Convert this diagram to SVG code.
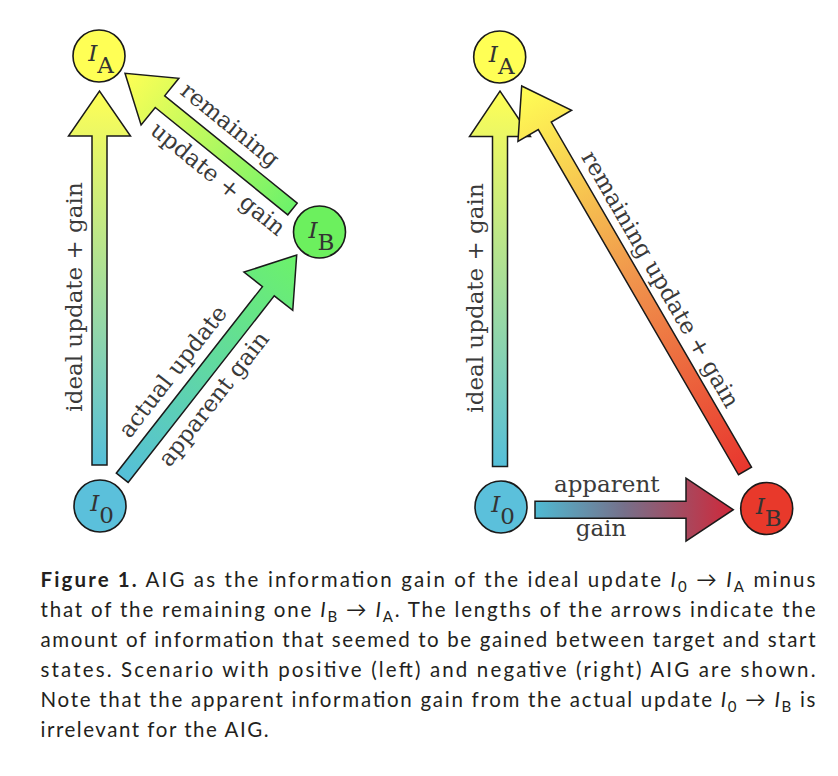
<svg xmlns="http://www.w3.org/2000/svg" width="838" height="776" viewBox="0 0 838 776">
<style>
.node{stroke:#1a1a1a;stroke-width:1.6}
.arr{stroke:#1a1a1a;stroke-width:1.5;stroke-linejoin:miter}
.lbl{font-family:"DejaVu Serif","Liberation Serif",serif;font-size:23px;fill:#3a3a3a}
.nl{font-family:"DejaVu Serif","Liberation Serif",serif;font-size:23px;fill:#333;text-anchor:middle}
.it{font-style:italic}
.cap{font-family:Lato,"Open Sans","Liberation Sans",sans-serif;font-size:20.5px;fill:#231f20}
.sub{font-size:15px}
</style>
<defs>
<linearGradient id="gVL" gradientUnits="userSpaceOnUse" x1="99.5" y1="465" x2="99.5" y2="91"><stop offset="0" stop-color="#55bfd9"/><stop offset="1" stop-color="#ffff55"/></linearGradient>
<linearGradient id="gVR" gradientUnits="userSpaceOnUse" x1="500" y1="466" x2="500" y2="91"><stop offset="0" stop-color="#55bfd9"/><stop offset="1" stop-color="#ffff55"/></linearGradient>
<linearGradient id="gRemL" gradientUnits="userSpaceOnUse" x1="292.5" y1="209" x2="125" y2="73.3"><stop offset="0" stop-color="#6cf26a"/><stop offset="1" stop-color="#ffff55"/></linearGradient>
<linearGradient id="gAct" gradientUnits="userSpaceOnUse" x1="122.2" y1="477.8" x2="296.7" y2="255"><stop offset="0" stop-color="#55bfd9"/><stop offset="1" stop-color="#6cf26a"/></linearGradient>
<linearGradient id="gRemR" gradientUnits="userSpaceOnUse" x1="745" y1="471" x2="521.7" y2="86"><stop offset="0" stop-color="#e8362e"/><stop offset="0.5" stop-color="#f0944c"/><stop offset="1" stop-color="#ffff55"/></linearGradient>
<linearGradient id="gH" gradientUnits="userSpaceOnUse" x1="535" y1="509.7" x2="733.3" y2="509.7"><stop offset="0" stop-color="#4fbad3"/><stop offset="0.45" stop-color="#76708a"/><stop offset="1" stop-color="#d0283a"/></linearGradient>
</defs>
<rect width="838" height="776" fill="#ffffff"/>

<g id="connectors">
<polygon class="arr" fill="url(#gVL)" points="107,465 107,136 130.5,136 99.5,91 68.5,136 92,136 92,465"/>
<polygon class="arr" fill="url(#gRemL)" points="297.22,203.17 164.68,95.79 178.84,78.31 125,73.3 141.08,124.93 155.24,107.45 287.78,214.83"/>
<polygon class="arr" fill="url(#gAct)" points="128.1,482.42 274.24,295.84 292.75,310.33 296.7,255 243.93,272.11 262.44,286.6 116.3,473.18"/>
<polygon class="arr" fill="url(#gVR)" points="507.5,466.5 507.5,136.5 530.5,136.5 500,91 469.5,136.5 492.5,136.5 492.5,466.5"/>
<polygon class="arr" fill="url(#gH)" points="535,501.2 686,501.2 686,478.2 733.3,509.7 686,541.2 686,518.2 535,518.2"/>
<polygon class="arr" fill="url(#gRemR)" points="751.49,467.24 551.27,122.03 571.6,110.24 521.7,86 517.96,141.34 538.29,129.55 738.51,474.76"/>

<text class="lbl" text-anchor="middle" transform="translate(82,297) rotate(-90)">ideal update + gain</text>
<text class="lbl" text-anchor="middle" transform="translate(213.6,145.2) rotate(39)" y="-18.5">remaining</text>
<text class="lbl" text-anchor="middle" transform="translate(232.7,160.6) rotate(39)" y="31">update + gain</text>
<text class="lbl" text-anchor="middle" transform="translate(193.05,387.34) rotate(-52)" y="-18">actual update</text>
<text class="lbl" text-anchor="middle" transform="translate(195.27,384.5) rotate(-52)" y="31">apparent gain</text>
<text class="lbl" text-anchor="middle" transform="translate(483,298) rotate(-90)">ideal update + gain</text>
<text class="lbl" text-anchor="middle" transform="translate(640.8,290.6) rotate(60)" y="-15">remaining update + gain</text>
<text class="lbl" text-anchor="middle" x="606.7" y="491.5">apparent</text>
<text class="lbl" text-anchor="middle" x="601" y="536">gain</text>
</g>

<g id="IA-left"><circle class="node" cx="99" cy="56" r="26" fill="#ffff55"/><text class="nl" x="101" y="61"><tspan class="it">I</tspan><tspan dy="12">A</tspan></text></g>
<g id="IB-left"><circle class="node" cx="319.5" cy="232" r="26" fill="#6cf05e"/><text class="nl" x="321.5" y="237.5"><tspan class="it">I</tspan><tspan dy="12">B</tspan></text></g>
<g id="I0-left"><circle class="node" cx="100" cy="506" r="26" fill="#5bc0db"/><text class="nl" x="102" y="511"><tspan class="it">I</tspan><tspan dy="12">0</tspan></text></g>
<g id="IA-right"><circle class="node" cx="499.7" cy="57" r="26" fill="#ffff55"/><text class="nl" x="501.7" y="62"><tspan class="it">I</tspan><tspan dy="12">A</tspan></text></g>
<g id="I0-right"><circle class="node" cx="501" cy="507" r="26" fill="#5bc0db"/><text class="nl" x="503" y="512"><tspan class="it">I</tspan><tspan dy="12">0</tspan></text></g>
<g id="IB-right"><circle class="node" cx="766.7" cy="508.5" r="26" fill="#e8392b"/><text class="nl" x="768.7" y="514"><tspan class="it">I</tspan><tspan dy="12">B</tspan></text></g>

<g id="caption">
<text class="cap" x="40.5" y="587" textLength="775" lengthAdjust="spacing"><tspan font-weight="bold">Figure 1.</tspan>  AIG as the information gain of the ideal update <tspan class="it">I</tspan><tspan class="sub" dy="5">0</tspan><tspan dy="-5"> → </tspan><tspan class="it">I</tspan><tspan class="sub" dy="5">A</tspan><tspan dy="-5"> minus</tspan></text>
<text class="cap" x="40.5" y="617" textLength="775" lengthAdjust="spacing">that of the remaining one <tspan class="it">I</tspan><tspan class="sub" dy="5">B</tspan><tspan dy="-5"> → </tspan><tspan class="it">I</tspan><tspan class="sub" dy="5">A</tspan><tspan dy="-5">. The lengths of the arrows indicate the</tspan></text>
<text class="cap" x="40.5" y="647" textLength="775" lengthAdjust="spacing">amount of information that seemed to be gained between target and start</text>
<text class="cap" x="40.5" y="677" textLength="775" lengthAdjust="spacing">states. Scenario with positive (left) and negative (right) AIG are shown.</text>
<text class="cap" x="40.5" y="707" textLength="775" lengthAdjust="spacing">Note that the apparent information gain from the actual update <tspan class="it">I</tspan><tspan class="sub" dy="5">0</tspan><tspan dy="-5"> → </tspan><tspan class="it">I</tspan><tspan class="sub" dy="5">B</tspan><tspan dy="-5"> is</tspan></text>
<text class="cap" x="40.5" y="736.5" textLength="228" lengthAdjust="spacing">irrelevant for the AIG.</text>
</g>
</svg>
